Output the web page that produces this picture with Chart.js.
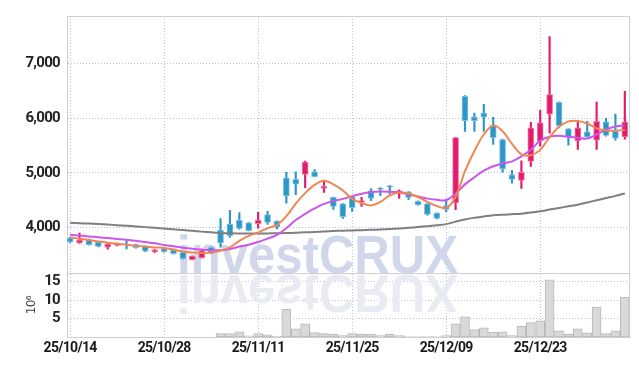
<!DOCTYPE html>
<html>
<head>
<meta charset="utf-8">
<script src="https://cdn.jsdelivr.net/npm/chart.js@4.4.1/dist/chart.umd.min.js"></script>
<style>
  html, body { margin: 0; padding: 0; background: #fff; }
  #wrap { width: 639px; height: 366px; }
</style>
</head>
<body>
<div id="wrap"><canvas id="chart"></canvas></div>
<script>
// 거래일 (YY/MM/DD)
const dates = [
    '25/10/14', '25/10/15', '25/10/16', '25/10/17', '25/10/20', '25/10/21', '25/10/22', '25/10/23', '25/10/24', '25/10/27',
    '25/10/28', '25/10/29', '25/10/30', '25/10/31', '25/11/03', '25/11/04', '25/11/05', '25/11/06', '25/11/07', '25/11/10',
    '25/11/11', '25/11/12', '25/11/13', '25/11/14', '25/11/17', '25/11/18', '25/11/19', '25/11/20', '25/11/21', '25/11/24',
    '25/11/25', '25/11/26', '25/11/27', '25/11/28', '25/12/01', '25/12/02', '25/12/03', '25/12/04', '25/12/05', '25/12/08',
    '25/12/09', '25/12/10', '25/12/11', '25/12/12', '25/12/15', '25/12/16', '25/12/17', '25/12/18', '25/12/19', '25/12/22',
    '25/12/23', '25/12/24', '25/12/26', '25/12/29', '25/12/30', '26/01/02', '26/01/05', '26/01/06', '26/01/07', '26/01/08'
];

const opens = [
    3810, 3720, 3780, 3735, 3645, 3675, 3700, 3690, 3660, 3560,
    3620, 3590, 3548, 3416, 3452, 3643, 3958, 4065, 4137, 4089,
    4075, 4238, 4119, 4911, 4881, 4970, 5018, 4714, 4554, 4434,
    4566, 4464, 4673, 4720, 4762, 4643, 4655, 4482, 4434, 4268,
    4405, 4452, 6398, 6024, 6089, 5863, 5607, 4964, 4863, 5208,
    5577, 6071, 6286, 5804, 5583, 5750, 5595, 5929, 5762, 5655
];
const highs = [
    3830, 3900, 3790, 3740, 3710, 3720, 3768, 3700, 3665, 3600,
    3625, 3595, 3555, 3485, 3590, 3650, 4167, 4315, 4274, 4095,
    4280, 4298, 4125, 5012, 5018, 5214, 5060, 4851, 4560, 4440,
    4572, 4554, 4714, 4732, 4770, 4690, 4660, 4490, 4440, 4272,
    4524, 5650, 6411, 6089, 6250, 6012, 5615, 5048, 5220, 5923,
    6143, 7488, 6295, 5810, 5952, 5940, 6292, 5994, 6071, 6488
];
const lows = [
    3725, 3715, 3680, 3650, 3610, 3665, 3613, 3625, 3560, 3545,
    3555, 3515, 3425, 3410, 3445, 3530, 3643, 3821, 3975, 3940,
    3990, 4060, 3976, 4446, 4601, 4732, 4925, 4643, 4333, 4167,
    4298, 4387, 4494, 4583, 4613, 4536, 4512, 4410, 4226, 4160,
    4286, 4327, 5756, 5756, 5756, 5518, 5012, 4810, 4714, 5119,
    5488, 5726, 5821, 5506, 5429, 5650, 5429, 5670, 5595, 5613
];
const closes = [
    3740, 3775, 3690, 3660, 3700, 3712, 3690, 3635, 3570, 3595,
    3560, 3525, 3435, 3480, 3583, 3536, 3720, 3851, 3988, 3946,
    4140, 4095, 4015, 4580, 4792, 5196, 4929, 4756, 4387, 4202,
    4363, 4494, 4536, 4702, 4750, 4673, 4554, 4417, 4244, 4167,
    4333, 5643, 5952, 5952, 6018, 5643, 5071, 4881, 5012, 5821,
    5911, 6429, 5863, 5655, 5821, 5655, 5940, 5684, 5631, 5929
];

// 이동평균선
const ma5 = [
    3821, 3800, 3775, 3750, 3725, 3705, 3690, 3672, 3655, 3640,
    3631, 3600, 3565, 3545, 3538, 3548, 3580, 3640, 3760, 3850,
    3915, 3990, 4050, 4210, 4440, 4630, 4780, 4855, 4790, 4680,
    4525, 4450, 4405, 4470, 4590, 4640, 4625, 4560, 4470, 4395,
    4360, 4560, 5030, 5400, 5700, 5863, 5760, 5530, 5340, 5320,
    5420, 5650, 5840, 5940, 5945, 5900, 5810, 5775, 5770, 5786
];
const ma20 = [
    3869, 3855, 3840, 3825, 3810, 3795, 3780, 3760, 3740, 3715,
    3685, 3660, 3635, 3615, 3600, 3590, 3590, 3610, 3655, 3690,
    3740, 3800, 3870, 3990, 4140, 4250, 4350, 4435, 4485, 4525,
    4575, 4620, 4650, 4660, 4655, 4640, 4610, 4570, 4530, 4510,
    4500, 4620, 4790, 4920, 5040, 5120, 5170, 5210, 5300, 5420,
    5590, 5660, 5675, 5660, 5640, 5625, 5700, 5790, 5845, 5863
];
const ma60 = [
    4089, 4082, 4074, 4066, 4057, 4045, 4035, 4023, 4010, 3997,
    3985, 3970, 3956, 3942, 3928, 3915, 3905, 3898, 3895, 3893,
    3893, 3895, 3898, 3902, 3908, 3915, 3922, 3930, 3938, 3945,
    3950, 3955, 3960, 3968, 3975, 3985, 3998, 4012, 4028, 4045,
    4065, 4110, 4150, 4180, 4205, 4226, 4238, 4246, 4256, 4275,
    4300, 4330, 4360, 4390, 4420, 4460, 4500, 4540, 4580, 4625
];

// 거래량 (단위 10^6, 앞부분은 데이터 없음)
const volumes = [
    null, null, null, null, null, null, null, null, null, null,
    null, null, null, null, null, null, 0.9, 0.9, 1.4, 0.3,
    0.9, 0.6, 0.25, 7.5, 2.2, 3.6, 1.2, 0.9, 0.7, 0.4,
    0.9, 0.7, 0.7, 0.4, 0.7, 0.4, 0.1, 0.1, 0.1, 0.1,
    0.4, 3.6, 5.5, 2.0, 2.5, 1.3, 1.4, 0.4, 2.9, 3.9,
    4.4, 15.5, 1.7, 0.7, 2.2, 1.1, 8.1, 0.9, 1.7, 10.8
];

const priceTicks = [4000, 5000, 6000, 7000];
const volumeTicks = [5, 10, 15];
const dateTicks = [0, 10, 20, 30, 40, 50];

const UP = '#e31b6d', UP_EDGE = '#f07aa6';
const DOWN = '#2f96c8', DOWN_EDGE = '#7cc0e2';
const GRID = 'rgba(165, 172, 200, 0.75)';
const AXIS = '#cfcfcf';
const FONT = "Roboto, 'DejaVu Sans Condensed', sans-serif";

const isUp = dates.map((d, i) => closes[i] >= opens[i]);
const xy = arr => arr.map((v, i) => ({x: i, y: v}));

/**
 * 축 글자 간격 좁히기 (좁은 폰트 흉내)
 */
const tightText = {
    id: 'tightText',
    beforeDraw(chart) { chart.ctx.letterSpacing = '-0.7px'; },
    afterDraw(chart) { chart.ctx.letterSpacing = '0px'; }
};

/**
 * 워터마크 + 패널 경계선
 */
const watermark = {
    id: 'watermark',
    beforeDatasetsDraw(chart) {
        const {ctx, chartArea: a, scales} = chart;
        const base = scales.yv.top;
        const txt = 'investCRUX';
        ctx.save();
        ctx.letterSpacing = '0px';
        ctx.beginPath();
        ctx.rect(a.left, a.top, a.right - a.left, a.bottom - a.top);
        ctx.clip();
        ctx.font = "bold 54px 'Liberation Sans', Arial, sans-serif";
        ctx.textBaseline = 'alphabetic';
        const sx = 281 / ctx.measureText(txt).width;
        const x0 = a.left + 110;

        ctx.save();
        ctx.translate(x0, base + 2);
        ctx.scale(sx, -1);
        ctx.fillStyle = '#e9ebf3';
        ctx.fillText(txt, 0, 0);
        ctx.restore();

        ctx.save();
        ctx.translate(x0, base);
        ctx.scale(sx, 1);
        ctx.fillStyle = '#d1d7ea';
        ctx.fillText(txt, 0, 0);
        ctx.restore();
        ctx.restore();

        // 테두리와 가격/거래량 경계
        ctx.save();
        ctx.strokeStyle = AXIS;
        ctx.lineWidth = 1;
        ctx.beginPath();
        ctx.moveTo(a.left, a.top + 0.5);
        ctx.lineTo(a.right - 0.5, a.top + 0.5);
        ctx.lineTo(a.right - 0.5, a.bottom);
        ctx.moveTo(a.left, Math.round(base) + 0.5);
        ctx.lineTo(a.right, Math.round(base) + 0.5);
        ctx.stroke();
        ctx.restore();
    }
};

new Chart(document.getElementById('chart'), {
    data: {
        datasets: [
            {
                type: 'line', label: 'MA5', data: xy(ma5), yAxisID: 'y', order: 0,
                borderColor: '#ef8753', borderWidth: 2, pointRadius: 0, tension: 0.35
            },
            {
                type: 'line', label: 'MA20', data: xy(ma20), yAxisID: 'y', order: 0,
                borderColor: '#cc55ec', borderWidth: 2, pointRadius: 0, tension: 0.35
            },
            {
                type: 'line', label: 'MA60', data: xy(ma60), yAxisID: 'y', order: 0,
                borderColor: '#7f7f7f', borderWidth: 2, pointRadius: 0, tension: 0.35
            },
            {
                type: 'bar', label: 'body', yAxisID: 'y', order: 1, grouped: false,
                data: opens.map((o, i) => ({x: i, y: [o, closes[i]]})),
                backgroundColor: isUp.map(u => u ? UP : DOWN),
                borderColor: isUp.map(u => u ? UP_EDGE : DOWN_EDGE),
                borderWidth: 1, borderSkipped: false, barThickness: 6
            },
            {
                type: 'bar', label: 'wick', yAxisID: 'y', order: 2, grouped: false,
                data: lows.map((l, i) => ({x: i, y: [l, highs[i]]})),
                backgroundColor: isUp.map(u => u ? UP : DOWN),
                borderWidth: 0, barThickness: 1.5
            },
            {
                type: 'bar', label: 'volume', yAxisID: 'yv', order: 3, grouped: false,
                data: xy(volumes),
                backgroundColor: '#d9d9d9', borderColor: '#b9b9b9',
                borderWidth: 1, borderSkipped: false, barThickness: 9
            }
        ]
    },
    options: {
        responsive: true,
        maintainAspectRatio: false,
        animation: false,
        layout: { padding: { top: 9, right: 9, left: 0, bottom: 0 } },
        plugins: { legend: { display: false }, tooltip: { enabled: false } },
        scales: {
            x: {
                type: 'linear', min: -0.33, max: 59.55, offset: false,
                afterBuildTicks: s => { s.ticks = dateTicks.map(v => ({value: v})); },
                afterFit: s => { s.height = 29; },
                ticks: {
                    callback: v => dates[v], autoSkip: false, maxRotation: 0, padding: 3,
                    color: '#1a1a1a', font: { family: FONT, size: 14, weight: 'bold' }
                },
                grid: { color: GRID, drawTicks: false, offset: false },
                border: { color: AXIS, dash: [1, 2] }
            },
            yv: {
                position: 'left', stack: 'panel', stackWeight: 65,
                min: 0, max: 17.26,
                afterBuildTicks: s => { s.ticks = volumeTicks.map(v => ({value: v})); },
                afterFit: s => { s.width = 67; },
                ticks: {
                    padding: 7, autoSkip: false, color: '#222',
                    font: { family: FONT, size: 15, weight: 'bold' }
                },
                title: {
                    display: true, text: '10\u2076', color: '#444',
                    font: { family: "'DejaVu Sans', sans-serif", size: 12 },
                    padding: { top: 25, bottom: 0 }
                },
                grid: { color: GRID, drawTicks: false },
                border: { color: AXIS, dash: [1, 2] }
            },
            y: {
                position: 'left', stack: 'panel', stackWeight: 263,
                min: 3166, max: 7862,
                afterBuildTicks: s => { s.ticks = priceTicks.map(v => ({value: v})); },
                afterFit: s => { s.width = 67; },
                ticks: {
                    callback: v => v.toLocaleString('en-US'), padding: 7, autoSkip: false,
                    color: '#222', font: { family: FONT, size: 15, weight: 'bold' }
                },
                grid: { color: GRID, drawTicks: false },
                border: { color: AXIS, dash: [1, 2] }
            }
        }
    },
    plugins: [tightText, watermark]
});
</script>
</body>
</html>
